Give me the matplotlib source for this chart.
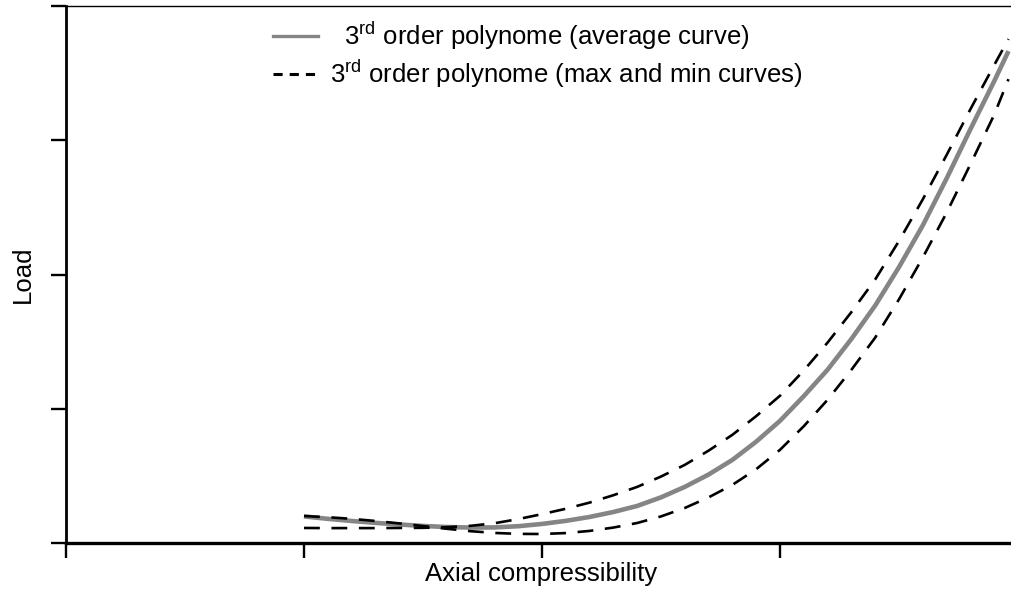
import matplotlib
matplotlib.use("Agg")
import matplotlib.pyplot as plt
from matplotlib.lines import Line2D

plt.rcParams['font.family'] = ['Liberation Sans', 'DejaVu Sans']
plt.rcParams['mathtext.fontset'] = 'custom'
plt.rcParams['mathtext.rm'] = 'Liberation Sans'

# Data (x and y in tick-spacing units)
axial = [1.0, 1.1, 1.2, 1.3, 1.4, 1.5, 1.6, 1.7, 1.8, 1.9,
         2.0, 2.1, 2.2, 2.3, 2.4, 2.5, 2.6, 2.7, 2.8, 2.9,
         3.0, 3.1, 3.2, 3.3, 3.4, 3.5, 3.6, 3.7, 3.8, 3.9, 3.96]
load_avg = [0.198, 0.180, 0.164, 0.150, 0.138, 0.127, 0.119, 0.115, 0.116, 0.125,
            0.142, 0.165, 0.194, 0.231, 0.276, 0.340, 0.418, 0.510, 0.619, 0.755,
            0.910, 1.094, 1.291, 1.520, 1.769, 2.055, 2.366, 2.715, 3.082, 3.440, 3.664]
load_max = [0.112, 0.111, 0.111, 0.111, 0.112, 0.113, 0.118, 0.128, 0.147, 0.178,
            0.215, 0.255, 0.301, 0.356, 0.418, 0.495, 0.582, 0.688, 0.806, 0.945,
            1.097, 1.285, 1.493, 1.720, 1.963, 2.250, 2.560, 2.890, 3.231, 3.560, 3.754]
load_min = [0.201, 0.192, 0.180, 0.164, 0.146, 0.126, 0.106, 0.088, 0.075, 0.068,
            0.067, 0.074, 0.090, 0.115, 0.149, 0.198, 0.261, 0.340, 0.433, 0.550,
            0.694, 0.870, 1.067, 1.290, 1.530, 1.815, 2.127, 2.460, 2.821, 3.190, 3.455]
x_ticks = [0, 1, 2, 3]
y_ticks = [0, 1, 2, 3, 4]
labels = [r'  3$^{\rm rd}$ order polynome (average curve)',
          r'3$^{\rm rd}$ order polynome (max and min curves)']

fig = plt.figure(figsize=(10.11, 5.91), dpi=100)
ax = fig.add_axes([66/1011, 48/591, 1 - 66/1011, (543-6)/591])

ax.plot(axial, load_avg, color='#858585', lw=3.3, solid_capstyle='butt')
ax.plot(axial, load_max, color='black', lw=1.9, dashes=(6, 4.4))
ax.plot(axial, load_min, color='black', lw=1.9, dashes=(6, 4.4))

ax.set_xlim(0, (1011-66)/238)
ax.set_ylim(0, 4.0)
ax.set_xticks(x_ticks)
ax.set_yticks(y_ticks)
ax.set_xticklabels([])
ax.set_yticklabels([])

ax.spines['right'].set_visible(False)
ax.spines['top'].set_linewidth(1.0)
ax.spines['left'].set_linewidth(2.0)
ax.spines['bottom'].set_linewidth(2.4)
ax.tick_params(axis='both', direction='out', length=11, width=1.7, color='black')

ax.set_xlabel('Axial compressibility', fontsize=18.5, va='center')
ax.xaxis.set_label_coords(0.5026, -0.058)
ax.set_ylabel('Load', fontsize=18.5, va='center')
ax.yaxis.set_label_coords(-0.0455, 0.5)

handles = [Line2D([], [], color='#858585', lw=2.4),
           Line2D([], [], color='black', lw=2.2, dashes=(3, 2.3))]
leg = ax.legend(handles, labels, loc='upper left',
                bbox_to_anchor=(263/1011, (591-9)/591),
                bbox_transform=fig.transFigure, frameon=False, fontsize=18.5,
                handlelength=1.75, handletextpad=0.47, labelspacing=0.2,
                borderaxespad=0)

fig.savefig('out.png', dpi=100)
